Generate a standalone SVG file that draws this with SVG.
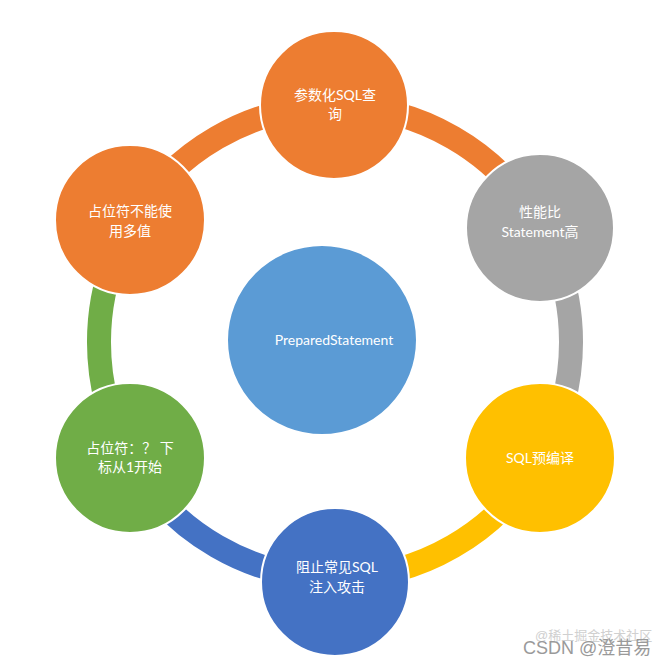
<svg xmlns="http://www.w3.org/2000/svg" width="669" height="666" viewBox="0 0 669 666">
<style>
.ring{fill:none;stroke-width:24;stroke-linecap:butt}
.node{stroke:#ffffff;stroke-width:2}
.lbl{font-family:Lato,"Noto Sans CJK SC",sans-serif;font-size:14px;fill:#ffffff;text-anchor:middle}
.wm{font-family:"Liberation Sans","Noto Sans CJK SC",sans-serif;text-anchor:start}
</style>
<rect width="669" height="666" fill="#ffffff"/>
<g id="connectors">
<path class="ring" stroke="#ED7D31" d="M335,106 A236,236 0 0 1 539.4,224"/>
<path class="ring" stroke="#A5A5A5" d="M539.4,224 A236,236 0 0 1 539.4,460"/>
<path class="ring" stroke="#FFC000" d="M539.4,460 A236,236 0 0 1 335,578"/>
<path class="ring" stroke="#4472C4" d="M335,578 A236,236 0 0 1 130.6,460"/>
<path class="ring" stroke="#70AD47" d="M130.6,460 A236,236 0 0 1 130.6,224"/>
<path class="ring" stroke="#ED7D31" d="M130.6,224 A236,236 0 0 1 335,106"/>
</g>
<g id="center">
<circle class="node" cx="322" cy="340" r="95" fill="#5B9BD5"/>
<text class="lbl" x="334" y="345" font-size="15.5">PreparedStatement</text>
</g>
<g id="n-param">
<circle class="node" cx="334" cy="105" r="74" fill="#ED7D31"/>
<text class="lbl" x="335" y="100">参数化SQL查</text>
<text class="lbl" x="335" y="119">询</text>
</g>
<g id="n-perf">
<circle class="node" cx="540" cy="228" r="74" fill="#A5A5A5"/>
<text class="lbl" x="540" y="217">性能比</text>
<text class="lbl" x="540" y="237">Statement高</text>
</g>
<g id="n-precompile">
<circle class="node" cx="540" cy="458" r="75" fill="#FFC000"/>
<text class="lbl" x="540" y="463">SQL预编译</text>
</g>
<g id="n-inject">
<circle class="node" cx="335" cy="582" r="74" fill="#4472C4"/>
<text class="lbl" x="337" y="572">阻止常见SQL</text>
<text class="lbl" x="337" y="592">注入攻击</text>
</g>
<g id="n-index">
<circle class="node" cx="130" cy="458" r="75" fill="#70AD47"/>
<text class="lbl" x="130" y="453">占位符：？ 下</text>
<text class="lbl" x="130" y="472">标从1开始</text>
</g>
<g id="n-multi">
<circle class="node" cx="130" cy="220" r="75" fill="#ED7D31"/>
<text class="lbl" x="130" y="216">占位符不能使</text>
<text class="lbl" x="130" y="236">用多值</text>
</g>
<g id="watermark">
<text class="wm" x="535" y="640" font-size="13" fill="#d0d0d0">@稀土掘金技术社区</text>
<text class="wm" x="523" y="654" font-size="18" fill="#9a9a9a">CSDN @澄昔易</text>
</g>
</svg>
